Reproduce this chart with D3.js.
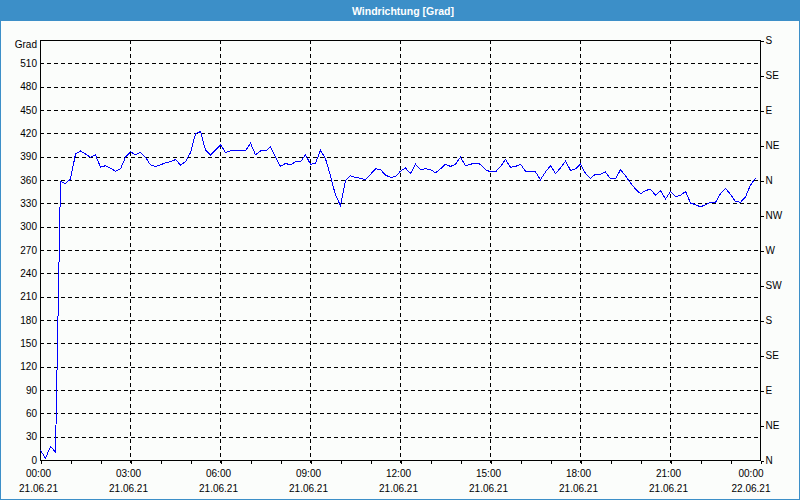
<!DOCTYPE html>
<html>
<head>
<meta charset="utf-8">
<script src="https://cdn.jsdelivr.net/npm/d3@7"></script>
<style>
  html, body { margin: 0; padding: 0; background: #fbfdfb; }
  svg { display: block; }
  text { font-family: "Liberation Sans", Arial, sans-serif; }
</style>
</head>
<body>
<svg id="chart" width="800" height="500"></svg>
<script>
// ---------- data ----------
const title = "Windrichtung [Grad]";
const unitLabel = "Grad";
const startTime = new Date(2021, 5, 21, 0, 0);
const endTime = new Date(2021, 5, 22, 0, 0);
const sampleMinutes = 10;
// wind direction in degrees, every 10 minutes from 21.06.21 00:00
const directions = [
  13, 3, 18, 11, 359, 356,
  362, 394, 398, 394, 390, 393,
  377, 379, 376, 372, 375, 390,
  397, 393, 396, 390, 380, 378,
  380, 383, 384, 387, 380, 384,
  396, 420, 423, 399, 393, 399,
  406, 396, 398, 398, 398, 398,
  408, 393, 398, 398, 403, 390,
  378, 382, 380, 384, 384, 393,
  381, 382, 399, 388, 366, 341,
  328, 360, 366, 364, 363, 361,
  368, 375, 374, 367, 364, 365,
  372, 376, 369, 381, 374, 375,
  374, 370, 375, 381, 378, 381,
  390, 379, 381, 382, 381, 374,
  371, 371, 378, 387, 377, 378,
  381, 372, 372, 371, 361, 371,
  379, 369, 376, 385, 373, 375,
  381, 369, 363, 368, 368, 371,
  362, 362, 374, 366, 357, 349,
  343, 347, 349, 341, 347, 336,
  346, 339, 341, 346, 331, 329,
  326, 329, 332, 332, 343, 350,
  342, 333, 332, 339, 354, 363
];
const leftTicks = [0, 30, 60, 90, 120, 150, 180, 210, 240, 270, 300, 330, 360, 390, 420, 450, 480, 510];
const compassValues = [0, 45, 90, 135, 180, 225, 270, 315, 360, 405, 450, 495, 540];
const compassLabels = ["N", "NE", "E", "SE", "S", "SW", "W", "NW", "N", "NE", "E", "SE", "S"];
const yMax = 540;

// ---------- layout ----------
const blue = "#3c8fc8";
const plot = { left: 40, right: 760, top: 40, bottom: 460 };
const svg = d3.select("#chart");

const x = d3.scaleTime().domain([startTime, endTime]).range([plot.left, plot.right]);
const y = d3.scaleLinear().domain([0, yMax]).range([plot.bottom, plot.top]);

const data = directions.map((v, i) => ({ t: d3.timeMinute.offset(startTime, i * sampleMinutes), v }));

// background
svg.append("rect").attr("width", 800).attr("height", 500).attr("fill", "#fbfdfb");
// title bar
svg.append("rect").attr("x", 0).attr("y", 0).attr("width", 800).attr("height", 21).attr("fill", blue);
svg.append("text").attr("x", 403).attr("y", 14.5).attr("text-anchor", "middle")
  .attr("fill", "#ffffff").attr("font-size", "10.5px").attr("font-weight", "bold").text(title);
// outer frame
svg.append("rect").attr("x", 0.5).attr("y", 0.5).attr("width", 799).attr("height", 499)
  .attr("fill", "none").attr("stroke", blue).attr("stroke-width", 1);

const dash = "4,3";
// horizontal grid
const hGrid = leftTicks.filter(v => v > 0);
svg.append("g").selectAll("line").data(hGrid).join("line")
  .attr("x1", plot.left).attr("x2", plot.right)
  .attr("y1", d => Math.round(y(d)) + 0.5).attr("y2", d => Math.round(y(d)) + 0.5)
  .attr("stroke", "#000").attr("stroke-dasharray", dash).attr("shape-rendering", "crispEdges");

// vertical grid
const majorTimes = d3.timeHour.every(3).range(startTime, d3.timeMinute.offset(endTime, 1));
const vGrid = majorTimes.filter(t => t > startTime && t < endTime);
svg.append("g").selectAll("line").data(vGrid).join("line")
  .attr("x1", d => Math.round(x(d)) + 0.5).attr("x2", d => Math.round(x(d)) + 0.5)
  .attr("y1", plot.top).attr("y2", plot.bottom + 3)
  .attr("stroke", "#000").attr("stroke-dasharray", dash).attr("shape-rendering", "crispEdges");

// frame of plot
const frame = svg.append("g").attr("stroke", "#000").attr("shape-rendering", "crispEdges");
frame.append("line").attr("x1", plot.left + 0.5).attr("x2", plot.left + 0.5).attr("y1", plot.top).attr("y2", plot.bottom + 1);
frame.append("line").attr("x1", plot.right + 0.5).attr("x2", plot.right + 0.5).attr("y1", plot.top).attr("y2", plot.bottom + 1);
frame.append("line").attr("x1", plot.left).attr("x2", plot.right + 1).attr("y1", plot.top + 0.5).attr("y2", plot.top + 0.5);
frame.append("line").attr("x1", plot.left).attr("x2", plot.right + 1).attr("y1", plot.bottom + 0.5).attr("y2", plot.bottom + 0.5);

// bottom minor ticks (hourly)
const xAxis = d3.axisBottom(x).ticks(d3.timeHour.every(1)).tickSize(3).tickFormat("");
const gx = svg.append("g").attr("transform", `translate(0.5,${plot.bottom + 0.5})`).call(xAxis);
gx.select(".domain").remove();
gx.selectAll("line").attr("stroke", "#000").attr("shape-rendering", "crispEdges");

// x labels
const fmtTime = d3.timeFormat("%H:%M");
const fmtDate = d3.timeFormat("%d.%m.%y");
const xl = svg.append("g").attr("font-size", "10px").attr("fill", "#000").attr("text-anchor", "middle");
majorTimes.forEach((t, i) => {
  const last = i === majorTimes.length - 1;
  const cx = x(t) - (last ? 9 : 1.5);
  xl.append("text").attr("x", cx).attr("y", 477).text(fmtTime(t));
  xl.append("text").attr("x", cx).attr("y", 492).text(fmtDate(t));
});

// left axis labels
const yAxisL = d3.axisLeft(y).tickValues(leftTicks).tickSize(0).tickPadding(3).tickFormat(d3.format("d"));
const gl = svg.append("g").attr("transform", `translate(${plot.left},0)`).call(yAxisL);
gl.select(".domain").remove();
gl.selectAll("text").attr("font-size", "10px").attr("font-family", "Liberation Sans, Arial, sans-serif").attr("fill", "#000");
svg.append("text").attr("x", plot.left - 3).attr("y", 48).attr("text-anchor", "end")
  .attr("font-size", "10px").attr("fill", "#000").text(unitLabel);

// right axis (compass)
const yAxisR = d3.axisRight(y).tickValues(compassValues).tickSize(3).tickPadding(2)
  .tickFormat((d, i) => compassLabels[i]);
const gr = svg.append("g").attr("transform", `translate(${plot.right + 0.5},0.5)`).call(yAxisR);
gr.select(".domain").remove();
gr.selectAll("line").attr("stroke", "#000").attr("shape-rendering", "crispEdges");
gr.selectAll("text").attr("font-size", "10px").attr("font-family", "Liberation Sans, Arial, sans-serif").attr("fill", "#000");

// data line
const line = d3.line().x(d => x(d.t)).y(d => y(d.v));
svg.append("path").datum(data)
  .attr("transform", "translate(0.5,0.5)")
  .attr("d", line).attr("fill", "none").attr("stroke", "#0000ff").attr("stroke-width", 1)
  .attr("shape-rendering", "crispEdges");
</script>
</body>
</html>
